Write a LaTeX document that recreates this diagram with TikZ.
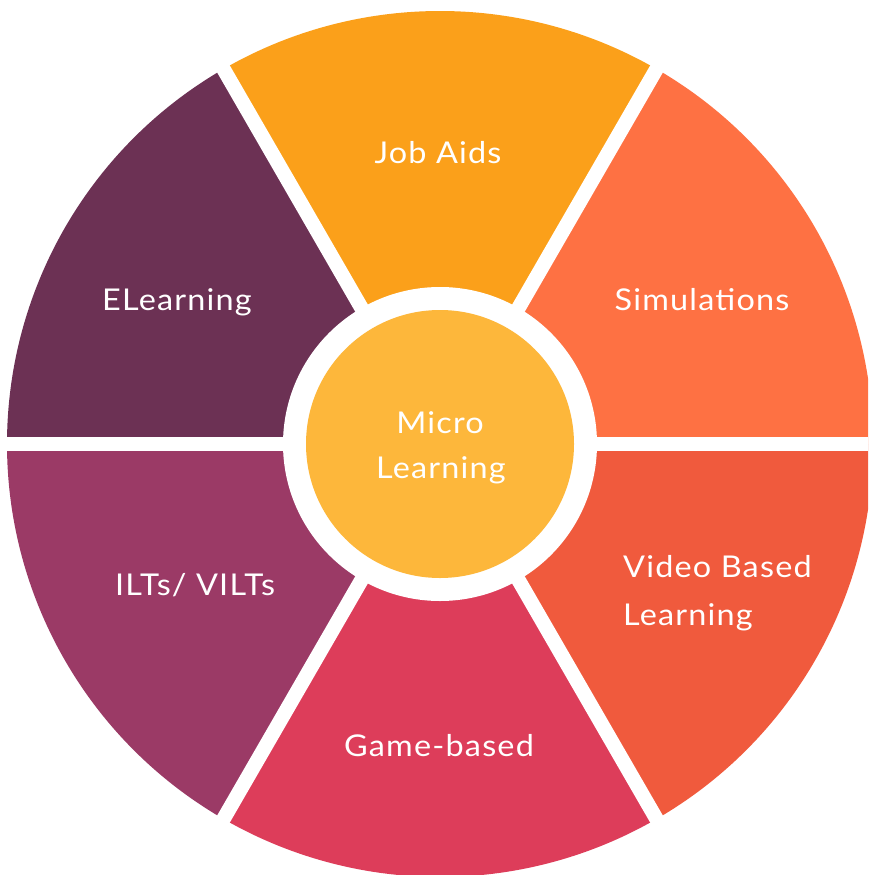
\documentclass[tikz,border=0pt]{standalone}
\usepackage{fontspec}
\setmainfont{Lato}[FakeStretch=1.08,LetterSpace=4]
\definecolor{jobaids}{HTML}{FBA01A}
\definecolor{simul}{HTML}{FE7143}
\definecolor{video}{HTML}{F05A3D}
\definecolor{game}{HTML}{DD3D5A}
\definecolor{ilts}{HTML}{9B3A66}
\definecolor{elearn}{HTML}{6C3154}
\definecolor{hub}{HTML}{FDB73B}
\begin{document}
\begin{tikzpicture}[x=1pt,y=-1pt,
  lbl/.style={text=white,font=\fontsize{30}{36}\selectfont,inner sep=0pt},
  gapline/.style={white,line width=14.5pt}]
\useasboundingbox (0,0) rectangle (868,875);
\clip (0,0) rectangle (868,875);
\coordinate (c) at (440,444);
% ring segments, 60 degrees each
\foreach \a/\col in {0/simul,60/jobaids,120/elearn,180/ilts,240/game,300/video}{
  \fill[\col] (c) -- ++({\a}:433 and -433) arc[start angle=\a,end angle=\a+60,x radius=433,y radius=-433] -- cycle;
}
% separators between segments
\foreach \a in {0,60,120,180,240,300}{
  \draw[gapline] (c) -- ++({\a}:460 and -460);
}
% white ring and hub
\fill[white] (c) circle[radius=157];
\fill[hub] (c) circle[radius=134];
% labels
\node[lbl,anchor=base] (ja) at (438,163) {Job Aids};
\node[lbl,anchor=base] (si) at (702,310) {Simulations};
\node[lbl,anchor=base] (el) at (177,310) {ELearning};
\node[lbl,anchor=base] (il) at (195,595) {ILTs/ VILTs};
\node[lbl,anchor=base] (gb) at (439,756) {Game-based};
\node[lbl,anchor=base west] (vb1) at (623,577) {Video Based};
\node[lbl,anchor=base west] (vb2) at (623,625) {Learning};
\node[lbl,anchor=base] (m1) at (440,433) {Micro};
\node[lbl,anchor=base] (m2) at (441,478) {Learning};
\end{tikzpicture}
\end{document}
